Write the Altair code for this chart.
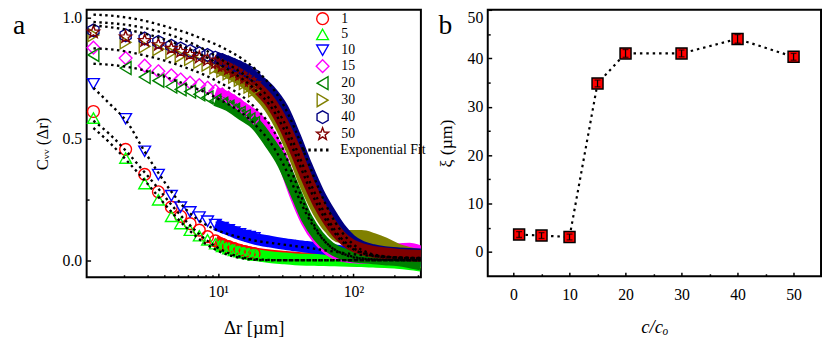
import altair as alt
import pandas as pd

# ---------------- data : panel a ----------------
SERIES = ["1", "5", "10", "15", "20", "30", "40", "50"]
SERIES_COLORS = ["#FF0000", "#00FF00", "#0000FF", "#FF00FF", "#008000", "#808000", "#000080", "#800000"]

# individually visible markers (Δr in µm)
MARKER_DR = [1.19, 2.06, 2.85, 3.6, 4.49, 5.26, 6.18, 7.23, 8.32, 9.51, 10.7, 11.9, 13.1, 14.4, 15.7, 17.0, 18.4]
PTS_1 = [0.613, 0.457, 0.354, 0.282, 0.219, 0.181, 0.151, 0.124, 0.097, 0.08, 0.066, 0.056, 0.048, 0.041, 0.036, 0.031, 0.027]
PTS_5 = [0.586, 0.421, 0.316, 0.249, 0.181, 0.151, 0.124, 0.101, 0.084, 0.068, 0.057, 0.048, 0.041, 0.035, 0.03, 0.026, 0.022]
PTS_10 = [0.727, 0.583, 0.449, 0.353, 0.266, 0.219, 0.199, 0.178, 0.161, 0.147, 0.135, 0.125, 0.116, 0.109, 0.102, 0.097, 0.092]
PTS_15 = [0.876, 0.833, 0.802, 0.779, 0.762, 0.745, 0.732, 0.722, 0.711, 0.698, 0.684, 0.67, 0.655, 0.64, 0.622, 0.605, 0.585]
PTS_20 = [0.846, 0.792, 0.755, 0.74, 0.716, 0.704, 0.695, 0.684, 0.671, 0.657, 0.645, 0.633, 0.62, 0.607, 0.594, 0.58, 0.565]
PTS_30 = [0.928, 0.898, 0.882, 0.87, 0.856, 0.842, 0.83, 0.818, 0.806, 0.795, 0.782, 0.77, 0.757, 0.744, 0.73, 0.716, 0.7]
PTS_40 = [0.947, 0.927, 0.914, 0.9, 0.884, 0.873, 0.862, 0.853, 0.846, 0.835, 0.825, 0.815, 0.805, 0.795, 0.785, 0.775, 0.763]
PTS_50 = [0.94, 0.92, 0.905, 0.888, 0.873, 0.86, 0.848, 0.836, 0.825, 0.813, 0.8, 0.788, 0.776, 0.764, 0.752, 0.74, 0.727]

# dense (overlapping) part of each data set
BAND_DR = [9.5, 12, 15, 19, 24, 30, 37, 45, 55, 67, 80, 95, 115, 140, 170, 210, 260, 316]
BAND_1 = [0.08, 0.056, 0.039, 0.028, 0.02, 0.015, 0.011, 0.008, 0.006, 0.004, 0.002, 0.0, -0.002, -0.004, -0.005, -0.006, -0.007, -0.008]
BAND_5 = [0.066, 0.048, 0.032, 0.021, 0.013, 0.008, 0.004, 0.002, 0.001, 0.0, -0.001, -0.002, -0.004, -0.006, -0.008, -0.011, -0.016, -0.022]
BAND_10 = [0.148, 0.126, 0.104, 0.088, 0.077, 0.068, 0.061, 0.055, 0.05, 0.044, 0.038, 0.032, 0.025, 0.018, 0.011, 0.005, 0.0, -0.004]
BAND_15 = [0.69, 0.667, 0.63, 0.59, 0.52, 0.41, 0.27, 0.16, 0.085, 0.04, 0.02, 0.013, 0.01, 0.012, 0.025, 0.045, 0.048, 0.035]
BAND_20 = [0.66, 0.637, 0.6, 0.56, 0.485, 0.4, 0.285, 0.175, 0.1, 0.053, 0.03, 0.018, 0.012, 0.008, 0.004, 0.0, -0.008, -0.018]
BAND_30 = [0.797, 0.772, 0.74, 0.695, 0.63, 0.535, 0.42, 0.3, 0.2, 0.13, 0.095, 0.1, 0.1, 0.088, 0.07, 0.045, 0.03, 0.02]
BAND_40 = [0.836, 0.816, 0.79, 0.75, 0.7, 0.625, 0.51, 0.39, 0.28, 0.195, 0.13, 0.085, 0.056, 0.042, 0.034, 0.029, 0.026, 0.024]
BAND_50 = [0.814, 0.79, 0.76, 0.715, 0.655, 0.565, 0.455, 0.34, 0.235, 0.155, 0.1, 0.066, 0.046, 0.035, 0.028, 0.023, 0.02, 0.018]

# exponential fit curves
FIT_DR = [1.19, 1.6, 2.1, 2.8, 3.6, 4.6, 6, 7.8, 10, 12.5, 15.5, 19, 24, 30, 37, 45, 55, 67, 80, 100, 130, 170, 230, 316]
FIT_1 = [0.575, 0.515, 0.447, 0.367, 0.295, 0.222, 0.151, 0.092, 0.05, 0.025, 0.011, 0.004, 0.001, 0.0, 0.0, 0.0, 0.0, 0.0, 0.0, 0.0, 0.0, 0.0, 0.0, 0.0]
FIT_5 = [0.545, 0.48, 0.411, 0.334, 0.262, 0.193, 0.127, 0.073, 0.038, 0.018, 0.007, 0.002, 0.0, 0.0, 0.0, 0.0, 0.0, 0.0, 0.0, 0.0, 0.0, 0.0, 0.0, 0.0]
FIT_10 = [0.711, 0.64, 0.572, 0.455, 0.36, 0.275, 0.2, 0.152, 0.122, 0.104, 0.091, 0.08, 0.072, 0.065, 0.058, 0.052, 0.045, 0.038, 0.032, 0.025, 0.019, 0.014, 0.01, 0.007]
FIT_15 = [0.873, 0.869, 0.86, 0.845, 0.83, 0.812, 0.79, 0.765, 0.735, 0.705, 0.67, 0.625, 0.56, 0.46, 0.33, 0.21, 0.115, 0.058, 0.03, 0.012, 0.005, 0.002, 0.001, 0.0]
FIT_20 = [0.81, 0.805, 0.797, 0.783, 0.765, 0.745, 0.72, 0.695, 0.665, 0.635, 0.6, 0.555, 0.49, 0.4, 0.29, 0.19, 0.11, 0.058, 0.032, 0.014, 0.005, 0.002, 0.001, 0.0]
FIT_30 = [0.968, 0.96, 0.95, 0.935, 0.918, 0.898, 0.872, 0.842, 0.81, 0.777, 0.742, 0.7, 0.64, 0.55, 0.44, 0.325, 0.22, 0.14, 0.085, 0.045, 0.022, 0.013, 0.009, 0.007]
FIT_40 = [1.012, 1.008, 1.0, 0.988, 0.972, 0.955, 0.935, 0.91, 0.885, 0.857, 0.825, 0.785, 0.725, 0.645, 0.54, 0.42, 0.3, 0.195, 0.125, 0.065, 0.03, 0.016, 0.011, 0.009]
FIT_50 = [0.982, 0.977, 0.97, 0.958, 0.943, 0.925, 0.9, 0.87, 0.835, 0.8, 0.765, 0.725, 0.665, 0.58, 0.47, 0.355, 0.245, 0.155, 0.095, 0.05, 0.025, 0.015, 0.011, 0.009]

# ---------------- data : panel b ----------------
CONC = [1, 5, 10, 15, 20, 30, 40, 50]
XI = [3.6, 3.4, 3.1, 34.8, 41.0, 41.0, 44.0, 40.3]
XI_ERR = [0.6, 0.6, 0.6, 0.7, 0.8, 0.7, 0.9, 0.7]

# ---------------- tables ----------------
PTS = [PTS_1, PTS_5, PTS_10, PTS_15, PTS_20, PTS_30, PTS_40, PTS_50]
BANDS = [BAND_1, BAND_5, BAND_10, BAND_15, BAND_20, BAND_30, BAND_40, BAND_50]
FITS = [FIT_1, FIT_5, FIT_10, FIT_15, FIT_20, FIT_30, FIT_40, FIT_50]
BAND_KEYS = ["band " + s for s in SERIES]

pts_df = pd.DataFrame([{"series": s, "r": r, "c": c}
                       for s, ys in zip(SERIES, PTS) for r, c in zip(MARKER_DR, ys)])
band_df = pd.DataFrame([{"bseries": k, "r": r, "c": c}
                        for k, ys in zip(BAND_KEYS, BANDS) for r, c in zip(BAND_DR, ys)])
fit_df = pd.DataFrame([{"series": s, "kind": "Exponential Fit", "r": r, "c": c}
                       for s, ys in zip(SERIES, FITS) for r, c in zip(FIT_DR, ys)])
b_df = pd.DataFrame({"conc": CONC, "xi": XI,
                     "lo": [v - e for v, e in zip(XI, XI_ERR)],
                     "hi": [v + e for v, e in zip(XI, XI_ERR)]})

FONT = "Liberation Serif"

HEX = "M0,-1.08L0.94,-0.54L0.94,0.54L0,1.08L-0.94,0.54L-0.94,-0.54Z"
STAR = ("M0,-1.08L0.265,-0.364L1.027,-0.334L0.428,0.139L0.635,0.874L0,0.45"
        "L-0.635,0.874L-0.428,0.139L-1.027,-0.334L-0.265,-0.364Z")
SHAPES = ["circle",
          "M0,-0.875L1,0.875L-1,0.875Z",
          "M0,0.875L1,-0.875L-1,-0.875Z",
          "M0,-1.08L1.08,0L0,1.08L-1.08,0Z",
          "M-0.92,0L0.92,-1.1L0.92,1.1Z",
          "M0.92,0L-0.92,-1.1L-0.92,1.1Z",
          HEX, STAR]

# ---------------- panel a ----------------
xa = alt.Scale(type="log", domain=[1.06, 316], nice=False)
ya = alt.Scale(domain=[-0.07, 1.032], nice=False, zero=False)
col_s = alt.Scale(domain=SERIES, range=SERIES_COLORS)
shp_s = alt.Scale(domain=SERIES, range=SHAPES)
band_s = alt.Scale(domain=BAND_KEYS, range=SERIES_COLORS)

ax_a_x = alt.Axis(orient="bottom", values=[10, 100],
                  labelExpr="datum.value == 10 ? '10\u00b9' : '10\u00b2'",
                  tickSize=4, offset=-4, domain=False, grid=False, labelPadding=7,
                  title="\u0394r [\u00b5m]", titleFontSize=19, titlePadding=19)
ax_a_y = alt.Axis(orient="left", values=[0, 0.5, 1.0], format=".1f",
                  tickSize=4, offset=-4, domain=False, grid=False, labelPadding=5,
                  title="C\u1d65\u1d65 (\u0394r)", titleFontSize=17, titlePadding=11)
ax_a_xm = alt.Axis(orient="bottom", values=[2, 3, 4, 5, 6, 7, 8, 9, 20, 30, 40, 50, 60, 70, 80, 90, 200, 300],
                   tickSize=2.5, offset=-2.5, domain=False, grid=False, labels=False, title=None)
ax_a_ym = alt.Axis(orient="left", values=[0.25, 0.75],
                   tickSize=2.5, offset=-2.5, domain=False, grid=False, labels=False, title=None)

leg_series = alt.Legend(orient="none", legendX=233, legendY=2, title=None,
                        labelFont=FONT, labelFontSize=14, labelOffset=12,
                        symbolSize=144, symbolStrokeWidth=1.4, rowPadding=-2.7,
                        padding=0)

bands = alt.Chart(band_df).mark_line(strokeWidth=12, strokeCap="butt", strokeJoin="round",
                                     interpolate="monotone", clip=True).encode(
    x=alt.X("r:Q", scale=xa, axis=ax_a_x),
    y=alt.Y("c:Q", scale=ya, axis=ax_a_y),
    stroke=alt.Stroke("bseries:N", scale=band_s, legend=None),
)

points = alt.Chart(pts_df).mark_point(filled=False, size=144, strokeWidth=1.4, opacity=1).encode(
    x=alt.X("r:Q", scale=xa, axis=None),
    y=alt.Y("c:Q", scale=ya, axis=None),
    color=alt.Color("series:N", scale=col_s, legend=leg_series),
    shape=alt.Shape("series:N", scale=shp_s, legend=leg_series),
)

fits = alt.Chart(fit_df).mark_line(color="black", strokeWidth=2.4, interpolate="monotone", clip=True).encode(
    x=alt.X("r:Q", scale=xa, axis=ax_a_xm),
    y=alt.Y("c:Q", scale=ya, axis=ax_a_ym),
    detail="series:N",
    strokeDash=alt.StrokeDash("kind:N",
                              scale=alt.Scale(domain=["Exponential Fit"], range=[[2.5, 3.5]]),
                              legend=alt.Legend(orient="none", legendX=218, legendY=127, title=None,
                                                labelFont=FONT, labelFontSize=14, labelOffset=9,
                                                symbolType="stroke", symbolSize=784,
                                                symbolStrokeWidth=3, symbolDash=[4, 4],
                                                symbolStrokeColor="black", padding=0)),
)

label_a = alt.Chart(pd.DataFrame({"t": ["a"]})).mark_text(
    font=FONT, fontSize=28, align="left", baseline="top", color="black").encode(
    x=alt.value(-75), y=alt.value(3), text="t:N")

panel_a = alt.layer(bands, points, fits, label_a).resolve_axis(
    x="independent", y="independent").properties(width=340, height=272)

# ---------------- panel b ----------------
xb = alt.Scale(domain=[-4.6, 54.9], nice=False, zero=False)
yb = alt.Scale(domain=[-5, 50], nice=False, zero=False)

ax_b_x = alt.Axis(orient="bottom", values=[0, 10, 20, 30, 40, 50], tickSize=4, offset=-4,
                  domain=False, grid=False, labelPadding=11,
                  title="c/c\u2092", titleFontSize=19, titleFontStyle="italic", titlePadding=15)
ax_b_y = alt.Axis(orient="left", values=[0, 10, 20, 30, 40, 50], tickSize=4, offset=-4,
                  domain=False, grid=False, labelPadding=5, labelFlush=True, labelFlushOffset=0,
                  title="\u03be (\u00b5m)", titleFontSize=18, titlePadding=12)
ax_b_xm = alt.Axis(orient="bottom", values=[5, 15, 25, 35, 45], tickSize=2.5, offset=-2.5,
                   domain=False, grid=False, labels=False, title=None)
ax_b_ym = alt.Axis(orient="left", values=[5, 15, 25, 35, 45], tickSize=2.5, offset=-2.5,
                   domain=False, grid=False, labels=False, title=None)

line_b = alt.Chart(b_df).mark_line(color="black", strokeWidth=2.2, strokeDash=[2.5, 4]).encode(
    x=alt.X("conc:Q", scale=xb, axis=ax_b_x),
    y=alt.Y("xi:Q", scale=yb, axis=ax_b_y),
)
squares = alt.Chart(b_df).mark_square(size=125, color="#FF0000", stroke="black",
                                      strokeWidth=1.5, opacity=1).encode(
    x=alt.X("conc:Q", scale=xb, axis=ax_b_xm),
    y=alt.Y("xi:Q", scale=yb, axis=ax_b_ym),
)
errs = alt.Chart(b_df).mark_errorbar(ticks=True, size=6, thickness=1.3, color="black").encode(
    x=alt.X("conc:Q", scale=xb, axis=None),
    y=alt.Y("lo:Q", scale=yb, axis=None),
    y2="hi:Q",
)
label_b = alt.Chart(pd.DataFrame({"t": ["b"]})).mark_text(
    font=FONT, fontSize=28, align="left", baseline="top", color="black").encode(
    x=alt.value(-50), y=alt.value(3), text="t:N")

panel_b = alt.layer(line_b, squares, errs, label_b).resolve_axis(
    x="independent", y="independent").properties(width=339, height=271)

chart = alt.hconcat(panel_a, panel_b, spacing=10).resolve_scale(
    color="independent", shape="independent", strokeDash="independent", stroke="independent"
).properties(
    padding={"left": 4, "top": -3, "right": 0, "bottom": 0}
).configure(font=FONT).configure_view(
    stroke="black", strokeWidth=2
).configure_axis(
    labelFont=FONT, labelFontSize=16, labelColor="black", tickColor="black", tickWidth=1.5,
    titleFont=FONT, titleFontWeight="normal", titleColor="black"
)

chart.save("out.html", embed_options={"renderer": "svg", "actions": False})
